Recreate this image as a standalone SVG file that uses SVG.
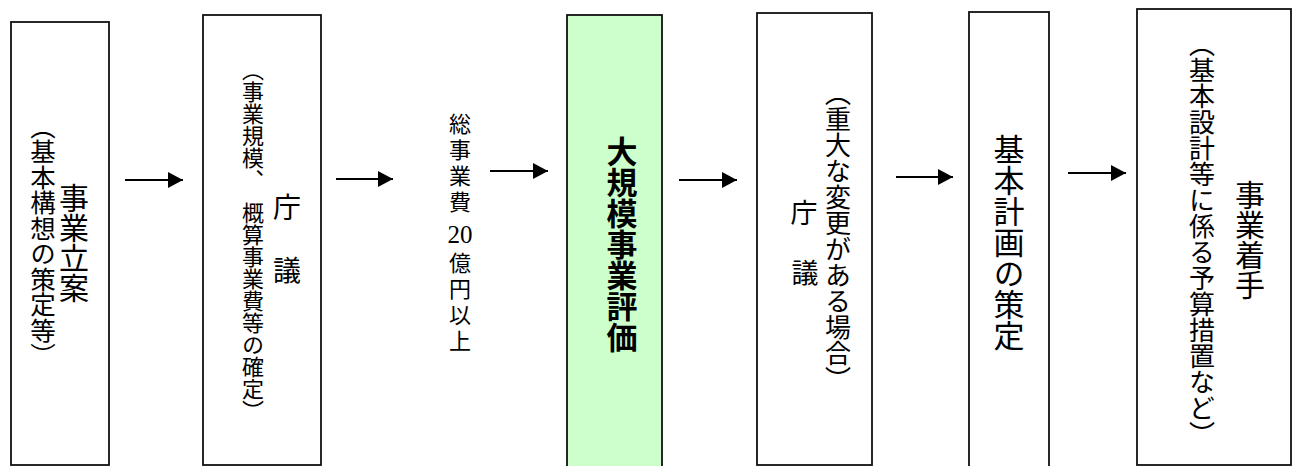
<svg xmlns="http://www.w3.org/2000/svg" width="1298" height="466" viewBox="0 0 1298 466">
<style>
.box{fill:#fff;stroke:#111;stroke-width:1.8}
.green{fill:#ccffcc}
.v{font-family:"Noto Sans CJK JP",sans-serif;writing-mode:vertical-rl;text-anchor:middle;fill:#000}
.h{font-family:"Noto Sans CJK JP",sans-serif;text-anchor:middle;fill:#000}
.num{font-family:"Liberation Serif",serif;text-anchor:middle;fill:#000}
.bold{font-weight:bold}
.conn line{stroke:#000;stroke-width:2;marker-end:url(#ah)}
</style>
<defs>
<marker id="ah" markerUnits="userSpaceOnUse" markerWidth="16" markerHeight="16" refX="15" refY="8" orient="auto">
<path d="M0,0 L15,8 L0,16 Z" fill="#000"/>
</marker>
</defs>
<rect width="1298" height="466" fill="#fff"/>
<g id="n1">
<rect class="box" x="11" y="22" width="98" height="443"/>
<text class="v" x="74" y="243" font-size="30">事業立案</text>
<text class="v" x="43" y="241" font-size="25.5">（基本構想の策定等）</text>
</g>
<g id="n2">
<rect class="box" x="203" y="15" width="118" height="450"/>
<text class="h" x="287" y="218" font-size="28">庁</text>
<text class="h" x="287" y="281" font-size="28">議</text>
<text class="v" x="253" y="240.5" font-size="22">（事業規模、　概算事業費等の確定）</text>
</g>
<g id="n3">
<text class="v" x="460" y="165" font-size="22" letter-spacing="4">総事業費</text>
<text class="num" x="460" y="243" font-size="25">20</text>
<text class="v" x="460" y="304" font-size="22" letter-spacing="4">億円以上</text>
</g>
<g id="n4">
<rect class="box green" x="567" y="15" width="95" height="460"/>
<text class="v bold" x="622" y="244" font-size="31">大規模事業評価</text>
</g>
<g id="n5">
<rect class="box" x="757" y="13" width="115" height="452"/>
<text class="h" x="804" y="223" font-size="27">庁</text>
<text class="h" x="805" y="283" font-size="27">議</text>
<text class="v" x="838" y="236" font-size="26">（重大な変更がある場合）</text>
</g>
<g id="n6">
<rect class="box" x="969" y="12" width="80" height="470"/>
<text class="v" x="1009" y="242" font-size="31">基本計画の策定</text>
</g>
<g id="n7">
<rect class="box" x="1137" y="9" width="154" height="456"/>
<text class="v" x="1250" y="240" font-size="30">事業着手</text>
<text class="v" x="1202" y="239" font-size="26">（基本設計等に係る予算措置など）</text>
</g>
<g id="connectors" class="conn">
<line x1="125" y1="180" x2="183" y2="180"/>
<line x1="336" y1="179" x2="393" y2="179"/>
<line x1="490" y1="171" x2="548" y2="171"/>
<line x1="679" y1="180" x2="737" y2="180"/>
<line x1="896" y1="177" x2="953" y2="177"/>
<line x1="1068" y1="173" x2="1126" y2="173"/>
</g>
</svg>
